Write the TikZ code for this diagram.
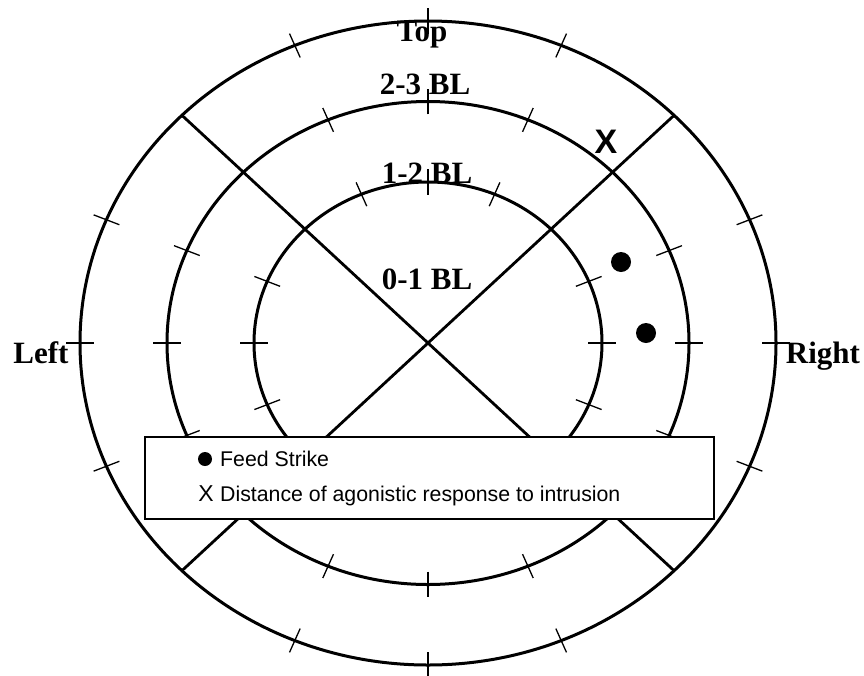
\documentclass[tikz,border=0pt]{standalone}
\usepackage{fontspec}
\setmainfont{Liberation Serif}
\setsansfont{Liberation Sans}
\usetikzlibrary{positioning}

\begin{document}
\begin{tikzpicture}[
    x=1pt, y=-1pt,
    ring/.style={line width=3pt},
    divider/.style={line width=2.8pt},
    tickmark/.style={line width=1.3pt},
    zone/.style={font=\fontsize{31}{33}\selectfont\bfseries, inner sep=0pt, anchor=base},
    strike/.style={circle, fill=black, inner sep=0pt, minimum size=20pt},
    legend/.style={draw, line width=2.6pt, fill=white, minimum width=569pt, minimum height=82pt},
    legtext/.style={font=\sffamily\fontsize{21.3}{23}\selectfont, inner sep=0pt, anchor=base west}
]
\useasboundingbox (0,0) rectangle (864,675);

% Rings, dividers and ticks
\begin{scope}[shift={(428pt,-343pt)}, x=174pt, y=161pt]
\coordinate (centre) at (0,0);
\foreach \r in {1,1.5,2} {
  \pgfmathsetmacro\rxv{\r*174}
  \pgfmathsetmacro\ryv{\r*161}
  \draw[ring] (centre) ellipse[x radius=\rxv pt, y radius=\ryv pt];
}
\foreach \a in {45,135,225,315}
  \draw[divider] (centre) -- (\a:2);
\foreach \a in {0,22.5,67.5,90,112.5,157.5,180,202.5,247.5,270,292.5,337.5}
  \foreach \r in {1,1.5,2} {
    \pgfmathsetmacro\rin{\r-0.08}
    \pgfmathsetmacro\rout{\r+0.08}
    \draw[tickmark] (\a:\rin) -- (\a:\rout);
  }
\end{scope}

% Zone labels
\node[zone] (toplbl) at (422,41) {Top};
\node[zone] (bl23) at (425,94) {2-3 BL};
\node[zone] (bl12) at (427,183) {1-2 BL};
\node[zone] (bl01) at (427,289) {0-1 BL};
\node[zone] (leftlbl) at (41,363) {Left};
\node[zone] (rightlbl) at (823,363) {Right};

% Observations
\node[strike] (strikea) at (621,262) {};
\node[strike] (strikeb) at (646,333) {};
\node[zone, font=\sffamily\bfseries\fontsize{34}{36}\selectfont] (agonistic) at (606,153) {X};

% Legend
\node[legend] (legendbox) at (429.5,478) {};
\node[strike, minimum size=14pt] (legdot) at (205,459) {};
\node[legtext] (legfeed) at (220,466) {Feed Strike};
\node[legtext, anchor=base, font=\sffamily\fontsize{23}{24}\selectfont] (legx) at (206,501) {X};
\node[legtext] (legdist) at (220,501) {Distance of agonistic response to intrusion};

\end{tikzpicture}
\end{document}
